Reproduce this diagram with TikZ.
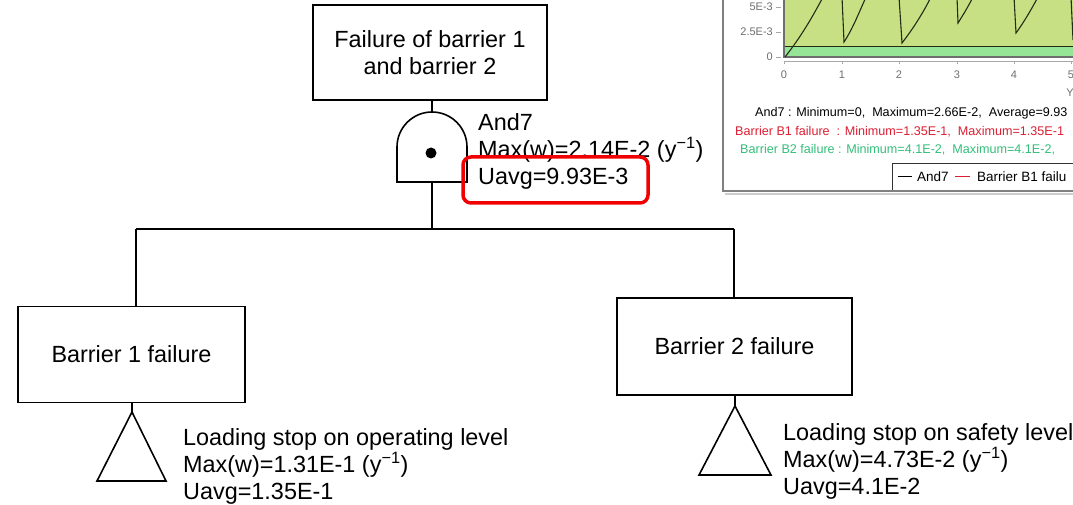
\documentclass[tikz,border=0pt]{standalone}
\usepackage{fontspec}
\setmainfont{Liberation Sans}
\definecolor{plotyg}{RGB}{200,224,132}
\definecolor{plotlg}{RGB}{150,228,150}
\definecolor{axisgray}{RGB}{110,110,110}
\definecolor{curvec}{RGB}{35,45,20}
\definecolor{redtxt}{RGB}{220,30,50}
\definecolor{greentxt}{RGB}{50,190,120}
\definecolor{hlred}{RGB}{240,0,0}
\begin{document}
\begin{tikzpicture}[x=1pt,y=-1pt,
  bigtxt/.style={font=\fontsize{23.4}{27}\selectfont},
  evbox/.style={draw, line width=1.6pt, inner sep=0pt, align=center, bigtxt},
  lbl/.style={anchor=west, align=left, inner sep=0pt, bigtxt},
  wire/.style={line width=1.6pt},
  smalltxt/.style={font=\fontsize{12.6}{14}\selectfont, inner sep=0pt, anchor=west},
  legtxt/.style={font=\fontsize{13.5}{15}\selectfont, inner sep=0pt, anchor=west},
  ticktxt/.style={font=\fontsize{11}{12}\selectfont, inner sep=0pt, text=axisgray}]
\useasboundingbox (0,0) rectangle (1073,505);

% ---------- chart (top right) ----------
\begin{scope}
\clip (720,0) rectangle (1073,196);
\fill[plotyg] (784,-5) rectangle (1080,47);
\fill[plotlg] (784,47) rectangle (1080,57);
\draw[curvec, line width=1pt] (784,47) -- (1080,47);
\draw[axisgray, line width=1.2pt] (784,-5) -- (784,57) -- (1080,57);
\draw[axisgray!60, line width=0.8pt] (784,61) -- (1080,61);
\foreach \xx/\lab in {784/0,842/1,899/2,957/3,1014/4,1071/5}{
  \draw[axisgray!60, line width=0.8pt] (\xx,61) -- (\xx,64);
  \node[ticktxt] (xt\lab) at (\xx,75) {\lab};
}
\foreach \yy/\lab/\nm in {7/5E-3/a,32/2.5E-3/b,57/0/c}{
  \draw[axisgray!60, line width=0.8pt] (776,\yy) -- (781,\yy);
  \node[ticktxt, anchor=east] (yt\nm) at (773,\yy) {\lab};
}
\node[ticktxt] (yearlbl) at (1070,93) {Y};
\draw[curvec, line width=1.1pt]
  (785,57) .. controls (800,38) and (812,18) .. (823,-3)
  (842,-3) -- (844,42) .. controls (852,30) and (858,15) .. (866,-3)
  (899,-3) -- (902,43) .. controls (912,30) and (922,15) .. (931,-3)
  (957,-3) -- (958,23) .. controls (963,15) and (968,7) .. (973,-3)
  (1014,-3) -- (1016,33) .. controls (1024,22) and (1031,10) .. (1038,-3)
  (1071,-3) -- (1073,40);
\node[smalltxt] (s1) at (755,113) {And7 : Minimum=0,~~Maximum=2.66E-2,~~Average=9.93};
\node[smalltxt, text=redtxt] (s2) at (735,132) {Barrier B1 failure~~: Minimum=1.35E-1,~~Maximum=1.35E-1};
\node[smalltxt, text=greentxt] (s3) at (740,150) {Barrier B2 failure : Minimum=4.1E-2,~~Maximum=4.1E-2,};
\draw[black!80, line width=1pt] (892,191) -- (892,164) -- (1080,164);
\draw[black, line width=1pt] (898,177) -- (912,177);
\node[legtxt] (lg1) at (917,177) {And7};
\draw[redtxt, line width=1pt] (955,177) -- (970,177);
\node[legtxt] (lg2) at (977,177) {Barrier B1 failu};
\draw[gray, line width=2pt] (723,-5) -- (723,191) -- (1080,191);
\draw[gray!40, line width=1.5pt] (725,194) -- (1080,194);
\end{scope}

% ---------- fault tree ----------
\node[evbox, minimum width=234pt, minimum height=95pt] (top) at (430,52.5)
  {Failure of barrier 1\\and barrier 2};
\node[evbox, minimum width=227pt, minimum height=96pt] (lbox) at (131.5,354.5)
  {Barrier 1 failure};
\node[evbox, minimum width=235pt, minimum height=97pt] (rbox) at (734.5,346.5)
  {Barrier 2 failure};

% AND gate
\coordinate (gtop) at (432,112);
\coordinate (gbot) at (432,182);
\coordinate (junc) at (432,229);
\coordinate (lj) at (136,229);
\coordinate (rj) at (734,229);
\draw[wire, fill=white] (397,182) -- (397,147)
  .. controls (397,127.7) and (412.7,112) .. (gtop)
  .. controls (451.3,112) and (467,127.7) .. (467,147)
  -- (467,182) -- cycle;
\fill (431,153) circle[radius=5.5pt];
\draw[wire] (gtop |- top.south) -- (gtop);
\draw[wire] (gbot) -- (junc);
\draw[wire] (lj) -- (rj);
\draw[wire] (lj) -- (lj |- lbox.north);
\draw[wire] (rj) -- (rj |- rbox.north);

\node[lbl] (gatelbl) at (478,151)
  {And7\\Max(w)=2.14E-2 (y\textsuperscript{−1})\\Uavg=9.93E-3};

% basic events
\coordinate (lapex) at (132,412);
\coordinate (rapex) at (735,406);
\draw[wire] (lapex |- lbox.south) -- (lapex);
\draw[wire] (lapex) -- (166,481) -- (97,481) -- cycle;
\draw[wire] (rapex |- rbox.south) -- (rapex);
\draw[wire] (rapex) -- (771,475) -- (699,475) -- cycle;

\node[lbl] (llbl) at (183,466)
  {Loading stop on operating level\\Max(w)=1.31E-1 (y\textsuperscript{−1})\\Uavg=1.35E-1};
\node[lbl] (rlbl) at (783,461)
  {Loading stop on safety level\\Max(w)=4.73E-2 (y\textsuperscript{−1})\\Uavg=4.1E-2};

% highlight
\draw[hlred, line width=3.5pt, rounded corners=8pt] (463,157) rectangle (648,203);
\end{tikzpicture}
\end{document}
